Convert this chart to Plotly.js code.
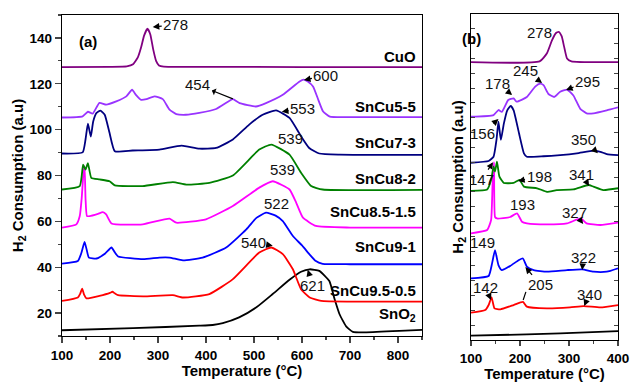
<!DOCTYPE html>
<html><head><meta charset="utf-8">
<script src="https://cdn.plot.ly/plotly-3.0.1.min.js"></script>
<style>html,body{margin:0;padding:0;background:#fff}#chart{width:630px;height:383px}</style>
</head><body><div id="chart"></div>
<script>
// ---------- series names & colours ----------
const samples = ['CuO','SnCu5-5','SnCu7-3','SnCu8-2','SnCu8.5-1.5','SnCu9-1','SnCu9.5-0.5','SnO<sub>2</sub>'];
const colors  = ['#800080','#9933FF','#000080','#008000','#FF00FF','#0000FF','#FF0000','#000000'];

// ---------- panel (a): temperature (°C) and H2 consumption (a.u) ----------
const cuoT  = [100,200,235,248,258,265,271,278,284,290,296,302,312,400,600,850];
const cuoA  = [127.3,127.4,127.6,128.5,131.5,136,141,144,141.5,135,130,128,127.5,127.4,127.3,127.3];
const cu55T = [100,143,154,164,178,192,213,234,246,254,265,276,293,310,324,338,358,386,421,449,456,470,504,525,560,595,603,612,623,634,644,658,700,850];
const cu55A = [105.3,105.8,107.8,107,111.7,110.9,112.3,114.5,117.4,115.2,113,113.3,114.5,113.3,108.7,106.8,106.5,107.3,109,112.6,113.3,111.6,110.1,111.6,115.2,121,121.8,121,118.8,113,107.9,105.7,105.5,105.5];
const cu73T = [100,143,149,154,160,165,172,180,189,199,210,247,303,349,386,421,456,490,518,546,574,598,615,636,678,850];
const cu73A = [89.6,90.1,95.7,102.6,97,103.6,107.3,108.3,106.5,98.6,90.6,90.9,91.3,93,91.7,92,95.7,102.2,106.5,108.4,105.1,97.1,92,89.6,89.1,89];
const cu82T = [100,137,144,149,154,161,178,199,210,268,331,359,407,456,511,536,574,598,619,643,850];
const cu82A = [73.9,75.4,84.7,82.6,85.4,79,78.3,77.5,75.7,75.4,77.1,76,76.8,80,91.3,93.5,89.1,81.2,75.4,73.9,73.7];
const cu8515T = [100,130,137,141,145,147,149,152,158,175,185,192,203,268,324,338,400,456,511,539,574,588,602,629,700,850];
const cu8515A = [57.3,58.7,62.3,70,82,84,70,62.3,62.3,63.3,64,63,59.1,58.7,61.2,59.4,60.9,66.7,74.7,77.5,73.9,68.1,61.6,58,57.3,57.3];
const cu91T = [100,133,140,147,151,156,172,190,203,210,217,269,303,324,352,393,442,484,505,525,545,560,581,600,616,628,643,700,850];
const cu91A = [41.6,42.7,46,51,48,44.2,43.8,46,48.6,46.5,44.7,43.5,44.2,44.2,43,44.2,48.6,56.5,61.5,63.8,62.5,60.1,53.6,49.5,45.5,42.8,41.5,41.3,41.3];
const cu9505T = [100,133,138,142,146,151,178,200,205,210,217,269,331,352,407,456,511,536,560,581,598,616,640,700,850];
const cu9505A = [25.3,26.8,28.5,30.7,28,26.4,27.5,28.8,29.3,28.6,27.8,27.3,27.8,26.8,28.3,34.8,46.4,48.6,45.7,39.1,30.4,26.8,25.3,25,25];
const sno2T = [100,248,386,414,435,469,505,539,574,598,616,636,657,668,678,692,706,734,803,850];
const sno2A = [12.5,13.4,14.5,14.8,15.6,18.1,22.5,28.3,34.5,38,39.1,38.4,34,26,19.6,14.2,11.8,11.6,12.2,12.7];

// ---------- panel (b): 100–400 °C zoom (arbitrary offset units) ----------
const cuoBT  = [100,240,255,265,273,279,285,290,296,305,400];
const cuoB   = [18.75,18.8,19.35,20.2,20.7,20.8,20.5,19.8,19.0,18.8,18.75];
const cu55BT = [100,146,156,163,176,187,193,214,231,241,248,258,270,282,296,309,323,336,350,377,400];
const cu55B  = [15.07,15.18,15.52,15.4,16.2,16.3,16.08,16.4,17.1,17.3,17.2,16.6,16.4,16.75,16.9,16.5,15.6,15.3,15.3,15.5,15.7];
const cu73BT = [100,136,146,152,156,161,167,174,181,187,198,208,214,248,282,316,350,364,377,400];
const cu73B  = [11.96,12.08,12.37,13.5,14.73,13.5,14.6,15.5,15.8,15.5,13.95,12.6,12.37,12.4,12.48,12.6,12.78,12.7,12.55,12.48];
const cu82BT = [100,133,141,146,149,153,158,167,187,199,208,235,255,275,309,340,350,370,400];
const cu82B  = [10.07,10.16,10.8,11.7,11.36,12.03,11.02,10.6,10.6,10.8,10.35,10.24,10.0,10.12,10.16,10.46,10.35,10.12,10.24];
const cu8515BT = [100,133,141,144,147,149,153,180,194,204,214,255,296,324,336,364,400];
const cu8515B  = [7.2,7.42,8.1,10.5,12.0,8.3,8.2,8.3,8.55,7.98,7.87,7.8,7.87,8.2,7.87,7.76,7.92];
const cu91BT = [100,136,143,149,156,163,180,198,206,214,228,255,296,327,350,377,400];
const cu91B  = [4.16,4.32,5.17,6.07,5.06,4.72,5.0,5.4,5.5,4.95,4.72,4.61,4.72,4.77,4.61,4.61,4.84];
const cu9505BT = [100,129,136,142,148,160,187,206,214,255,302,330,364,400];
const cu9505B  = [1.84,2.02,2.36,2.88,2.13,2.07,2.36,2.58,2.25,2.13,2.2,2.29,2.2,2.36];
const sno2BT = [100,214,282,400];
const sno2B  = [0.29,0.38,0.45,0.6];

// ---------- axis ticks ----------
const xTicksA = [100,200,300,400,500,600,700,800];
const yTicksA = [20,40,60,80,100,120,140];
const xTicksB = [100,200,300,400];

const FONT = 'Liberation Sans, Arial, sans-serif';
const seriesA = [[cuoT,cuoA],[cu55T,cu55A],[cu73T,cu73A],[cu82T,cu82A],[cu8515T,cu8515A],[cu91T,cu91A],[cu9505T,cu9505A],[sno2T,sno2A]];
const seriesB = [[cuoBT,cuoB],[cu55BT,cu55B],[cu73BT,cu73B],[cu82BT,cu82B],[cu8515BT,cu8515B],[cu91BT,cu91B],[cu9505BT,cu9505B],[sno2BT,sno2B]];

const traces = [];
for (let i = seriesA.length - 1; i >= 0; i--) {
  traces.push({x: seriesA[i][0], y: seriesA[i][1], type:'scatter', mode:'lines', name: samples[i],
    line:{color: colors[i], width:1.8, shape:'spline', smoothing:0.45}, xaxis:'x', yaxis:'y', hoverinfo:'skip'});
}
for (let i = seriesB.length - 1; i >= 0; i--) {
  traces.push({x: seriesB[i][0], y: seriesB[i][1], type:'scatter', mode:'lines', name: samples[i],
    line:{color: colors[i], width:1.8, shape:'spline', smoothing:0.45}, xaxis:'x2', yaxis:'y2', hoverinfo:'skip'});
}

const annFont = {family: FONT, size: 15, color: '#111'};
function arr(xa, ya, x, y, text, ax, ay, extra) {
  return Object.assign({xref: xa, yref: ya, x: x, y: y, text: text, ax: ax, ay: ay, showarrow: true,
    arrowhead: 2, arrowsize: 1.1, arrowwidth: 1.2, arrowcolor: '#000', font: annFont, standoff: 0, startstandoff: 0}, extra || {});
}

// series labels in panel (a)
const labelY = [131.7, 109.9, 94.2, 78.6, 64.2, 48.9, 29.8, 19.5];
const annotations = samples.map((s, i) => ({xref:'x', yref:'y', x: 842, y: labelY[i], text: s, showarrow:false,
  xanchor:'right', yanchor:'middle', font:{family: FONT, size: 15, color:'#000', weight:'bold'}}));

annotations.push(
  {xref:'paper', yref:'paper', x: 77/630, y: 1-31/383, text:'(a)', showarrow:false, font:{family:FONT,size:15,weight:'bold',color:'#000'}},
  {xref:'paper', yref:'paper', x: 483/630, y: 1-28/383, text:'(b)', showarrow:false, font:{family:FONT,size:15,weight:'bold',color:'#000'}},
  // panel (a) peak labels
  arr('x','y', 289, 144.8, '278', 23, -2),
  arr('x','y', 456, 113.4, '454', -35, -14, {arrowside:'start'}),
  arr('x','y', 604, 121.7, '600', 22, -4),
  arr('x','y', 558, 107.8, '553', 21, -3),
  arr('x','y', 548, 92.5, '539', 13, -8),
  arr('x','y', 539, 79.2, '539', 10, -8),
  arr('x','y', 527, 64.2, '522', 10, -8),
  arr('x','y', 539, 49.4, '540', -19, -3),
  arr('x','y', 612, 38.9, '621', 5, 16),
  // panel (b) peak labels
  {xref:'x2', yref:'y2', x: 239, y: 20.78, text:'278', showarrow:false, font: annFont},
  arr('x2','y2', 184, 16.53, '178', -14.5, -12),
  arr('x2','y2', 245, 17.34, '245', -16.5, -12.5),
  arr('x2','y2', 294, 16.87, '295', 21.5, -8.5),
  arr('x2','y2', 156, 14.91, '156', -16, 14.5),
  arr('x2','y2', 359, 12.6, '350', -14, -14),
  arr('x2','y2', 145, 12.0, '147', -11.5, 17.5),
  arr('x2','y2', 196, 10.73, '198', 21, -4.5),
  arr('x2','y2', 341, 10.39, '341', -7.5, -12),
  arr('x2','y2', 190, 8.37, '193', 7, -11),
  arr('x2','y2', 329, 7.83, '327', -9, -11.5),
  arr('x2','y2', 149.5, 5.87, '149', -12.5, -11),
  arr('x2','y2', 327, 4.72, '322', 1, -13),
  arr('x2','y2', 211, 4.93, '205', 15, 18),
  arr('x2','y2', 141, 2.7, '142', -5.5, -12),
  arr('x2','y2', 331, 2.29, '340', 5, -12)
);

// second pointer of the "205" label (to the red curve)
const shapes = [
  {type:'line', xref:'x2', yref:'y2', x0: 206.5, y0: 2.7, x1: 212, y1: 3.25, line:{color:'#000', width:1.2}}
];

const tickFont = {family: FONT, size: 13.5, color:'#000', weight:'bold'};
const titleFont = {family: FONT, size: 15, color:'#000', weight:'bold'};

const layout = {
  width: 630, height: 383,
  margin: {l:0, r:0, t:0, b:0, pad:0},
  paper_bgcolor:'#fff', plot_bgcolor:'#fff',
  showlegend: false,
  xaxis: {domain:[62/630, 422/630], range:[100,850], tickvals: xTicksA, ticks:'outside', ticklen:6, tickwidth:1.2,
    minor:{ticks:'outside', ticklen:3, tickvals:[150,250,350,450,550,650,750,850], tickwidth:1.2},
    showline:true, linewidth:1.3, linecolor:'#000', mirror:true, showgrid:false, zeroline:false, tickfont: tickFont,
    title:{text:'Temperature (°C)', font: titleFont, standoff: 1}},
  yaxis: {domain:[1-336/383, 1-15/383], range:[10,150], tickvals: yTicksA, ticks:'outside', ticklen:6, tickwidth:1.2,
    minor:{ticks:'outside', ticklen:3, tickvals:[10,30,50,70,90,110,130,150], tickwidth:1.2},
    showline:true, linewidth:1.3, linecolor:'#000', mirror:true, showgrid:false, zeroline:false, tickfont: tickFont,
    title:{text:'H<sub>2</sub> Consumption (a.u)', font: titleFont, standoff: 2}},
  xaxis2: {domain:[471/630, 618/630], range:[100,400], tickvals: xTicksB, ticks:'outside', ticklen:5, tickwidth:1.2,
    minor:{ticks:'outside', ticklen:3, tickvals:[150,250,350], tickwidth:1.2},
    showline:true, linewidth:1.3, linecolor:'#000', mirror:true, showgrid:false, zeroline:false, tickfont: tickFont,
    anchor:'y2', title:{text:'Temperature (°C)', font: titleFont, standoff: 1}},
  yaxis2: {domain:[1-340/383, 1-14/383], range:[0,22], dtick:1, tick0:0, ticks:'inside', ticklen:4, tickwidth:1,
    showticklabels:false, showline:true, linewidth:1.3, linecolor:'#000', mirror:'ticks', showgrid:false, zeroline:false,
    anchor:'x2', title:{text:'H<sub>2</sub> Consumption (a.u)', font: titleFont, standoff: 2}},
  annotations: annotations,
  shapes: shapes
};

Plotly.newPlot('chart', traces, layout, {staticPlot:true, displayModeBar:false});
</script>
</body></html>
